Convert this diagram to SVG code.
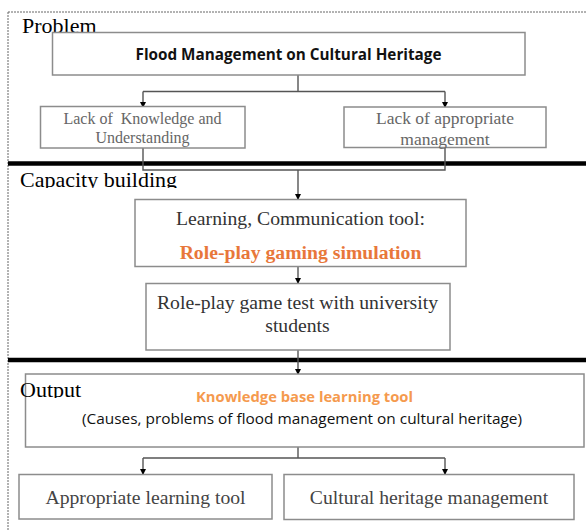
<svg xmlns="http://www.w3.org/2000/svg" width="586" height="531" viewBox="0 0 586 531">
<style>
.box{fill:#fff;stroke:#8c8c8c;stroke-width:1.5}
.ser{font-family:"Liberation Serif","Times New Roman",serif;text-anchor:middle}
.sans{font-family:"Open Sans","Liberation Sans",sans-serif;text-anchor:middle}
.lbl{font-family:"Liberation Serif","Times New Roman",serif;font-size:22px;fill:#000}
.con{fill:none;stroke:#555;stroke-width:1.4}
.sep{stroke:#000;stroke-width:4.5}
</style>
<defs>
<marker id="ah" markerWidth="6" markerHeight="6" refX="5" refY="3" orient="auto" markerUnits="userSpaceOnUse">
<path d="M0,0 L6,3 L0,6 Z" fill="#000"/>
</marker>
<clipPath id="c1"><rect x="0" y="160" width="300" height="28"/></clipPath>
<clipPath id="c2"><rect x="0" y="370" width="300" height="28"/></clipPath>
</defs>
<rect width="586" height="531" fill="#fff"/>
<g id="frame">
<path d="M8,12 H586 M8,12 V531" fill="none" stroke="#666" stroke-width="1" stroke-dasharray="2,1"/>
<line class="sep" x1="8" y1="163.5" x2="586" y2="163.5"/>
<line class="sep" x1="8" y1="360" x2="586" y2="360"/>
</g>
<g id="label-problem"><text class="lbl" x="22" y="33">Problem</text></g>
<g id="connectors">
<path class="con" d="M298,75 V91.5 M143,91.5 H445"/>
<path class="con" d="M143,91.5 V107" marker-end="url(#ah)"/>
<path class="con" d="M445,91.5 V107" marker-end="url(#ah)"/>
<path class="con" d="M143,148 V170 H445 V147"/>
<path class="con" d="M298,170 V199" marker-end="url(#ah)"/>
<path class="con" d="M298,267 V283" marker-end="url(#ah)"/>
<path class="con" d="M298,350 V374" marker-end="url(#ah)"/>
<path class="con" d="M298,447 V458 M143,458 H445"/>
<path class="con" d="M143,458 V474" marker-end="url(#ah)"/>
<path class="con" d="M445,458 V474" marker-end="url(#ah)"/>
</g>
<g id="n-flood">
<rect class="box" x="52.5" y="32.5" width="472.5" height="42.5"/>
<text class="sans" x="288.5" y="60" font-size="15.5" font-weight="bold" fill="#111" textLength="306" lengthAdjust="spacingAndGlyphs">Flood Management on Cultural Heritage</text>
</g>
<g id="n-lack-knowledge">
<rect class="box" x="40.5" y="106.5" width="204.5" height="41.5"/>
<text class="ser" font-size="16" fill="#666" xml:space="preserve"><tspan x="142.5" y="124">Lack of  Knowledge and</tspan><tspan x="142.5" y="143">Understanding</tspan></text>
</g>
<g id="n-lack-management">
<rect class="box" x="344" y="107" width="202" height="40.5"/>
<text class="ser" font-size="17.5" fill="#666"><tspan x="445" y="124">Lack of appropriate</tspan><tspan x="445" y="145">management</tspan></text>
</g>
<g id="label-capacity"><text class="lbl" x="20" y="187" clip-path="url(#c1)">Capacity building</text></g>
<g id="n-learning">
<rect class="box" x="135" y="199.5" width="331" height="67"/>
<text class="ser" font-size="19.7" fill="#333"><tspan x="300.5" y="224.5">Learning, Communication tool:</tspan></text>
<text class="ser" font-size="19.7" font-weight="bold" fill="#E8773A"><tspan x="300.5" y="258.5">Role-play gaming simulation</tspan></text>
</g>
<g id="n-test">
<rect class="box" x="146" y="283.5" width="304" height="66.5"/>
<text class="ser" font-size="19.7" fill="#333"><tspan x="297.5" y="308.5">Role-play game test with university</tspan><tspan x="297.5" y="332">students</tspan></text>
</g>
<g id="n-knowledge-base">
<rect class="box" x="25.5" y="374" width="558.5" height="73"/>
<text class="sans" x="304.5" y="402" font-size="14.5" font-weight="bold" fill="#F59A4E" textLength="217" lengthAdjust="spacingAndGlyphs">Knowledge base learning tool</text>
<text class="sans" x="302" y="423.5" font-size="15" fill="#111" textLength="440" lengthAdjust="spacingAndGlyphs">(Causes, problems of flood management on cultural heritage)</text>
</g>
<g id="label-output"><text class="lbl" x="20" y="397" clip-path="url(#c2)">Output</text></g>
<g id="n-appropriate">
<rect class="box" x="19" y="474.5" width="253" height="44.5"/>
<text class="ser" x="145.5" y="504" font-size="19.7" fill="#444">Appropriate learning tool</text>
</g>
<g id="n-cultural">
<rect class="box" x="284" y="474.5" width="290" height="45"/>
<text class="ser" x="429" y="504" font-size="19.7" fill="#444">Cultural heritage management</text>
</g>
</svg>
